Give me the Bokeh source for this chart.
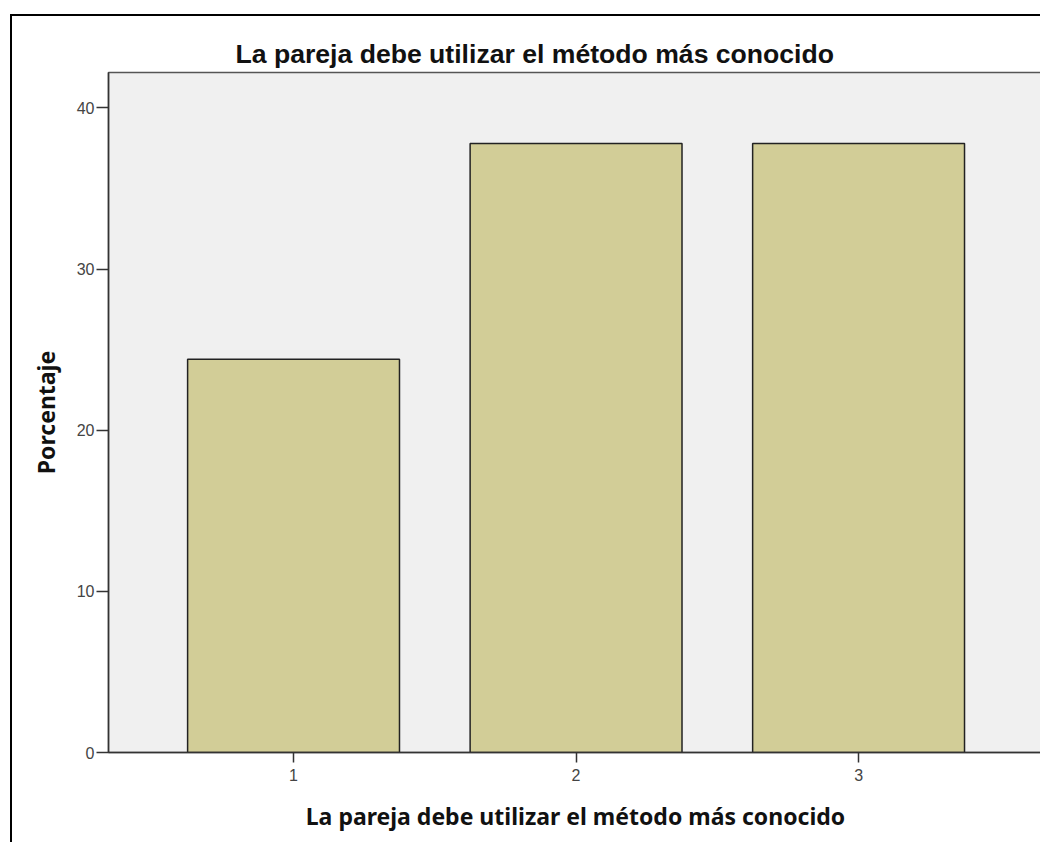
from bokeh.plotting import figure
from bokeh.models import ColumnDataSource, FixedTicker, Range1d, Title
from bokeh.embed import file_html
from bokeh.resources import INLINE

categories = [1, 2, 3]
percentages = [24.4, 37.8, 37.8]
y_ticks = [0, 10, 20, 30, 40]
title_text = "La pareja debe utilizar el método más conocido"
x_label = "La pareja debe utilizar el método más conocido"
y_label = "Porcentaje"

source = ColumnDataSource(data=dict(x=categories, top=percentages))

p = figure(width=1030, height=828, output_backend="svg", toolbar_location=None,
           x_range=Range1d(0.345, 3.651), y_range=Range1d(0, 42.2),
           min_border_left=96, min_border_right=0, min_border_top=56, min_border_bottom=92)
p.styles = {"border-left": "2px solid black", "border-top": "2px solid black",
            "margin-left": "10px", "margin-top": "14px"}

p.vbar(x="x", top="top", width=0.75, source=source, fill_color="#D2CD97",
       line_color="#222222", line_width=1.5)

p.background_fill_color = "#F0F0F0"
p.border_fill_color = "white"
p.outline_line_color = "#555555"
p.outline_line_width = 1.5
p.grid.visible = False

t = Title(text=title_text, align="left", offset=127, text_font="Liberation Sans",
          text_font_size="26.6px", text_font_style="bold", text_color="#111111", standoff=8)
p.add_layout(t, "above")

p.xaxis.ticker = FixedTicker(ticks=categories)
p.yaxis.ticker = FixedTicker(ticks=y_ticks)
for ax in (p.xaxis[0], p.yaxis[0]):
    ax.axis_line_color = "#333333"
    ax.axis_line_width = 1.5
    ax.major_tick_line_color = "#333333"
    ax.major_tick_line_width = 1.5
    ax.major_tick_in = 0
    ax.minor_tick_line_color = None
    ax.major_label_text_font = "Liberation Sans"
    ax.major_label_text_font_size = "16px"
    ax.major_label_text_color = "#444444"
    ax.axis_label_text_font = "Noto Sans"
    ax.axis_label_text_font_style = "bold"
    ax.axis_label_text_font_size = "23px"
    ax.axis_label_text_color = "#111111"

p.xaxis.major_tick_out = 10
p.yaxis.major_tick_out = 12
p.xaxis.major_label_standoff = 6
p.yaxis.major_label_standoff = 2
p.xaxis.axis_label = x_label
p.yaxis.axis_label = y_label
p.xaxis.axis_label_standoff = 16
p.yaxis.axis_label_standoff = 12

open("out.html", "w").write(file_html(p, INLINE))
